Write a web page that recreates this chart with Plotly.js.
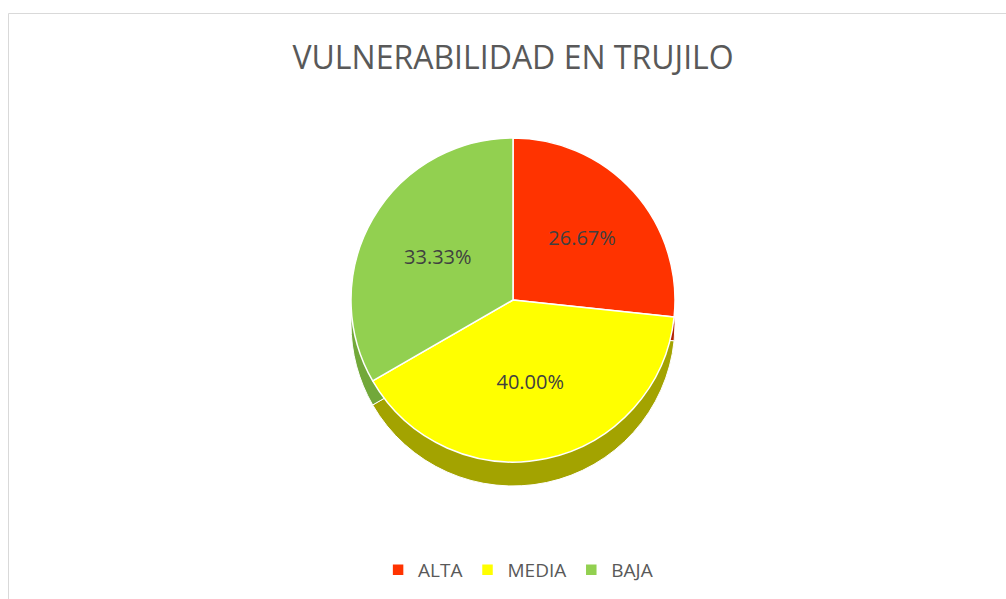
<!DOCTYPE html>
<html>
<head>
<meta charset="utf-8">
<script src="https://cdn.plot.ly/plotly-3.0.1.min.js"></script>
<style>
  html, body { margin: 0; padding: 0; background: #ffffff; }
  #chart { width: 1006px; height: 599px; }
</style>
</head>
<body>
<div id="chart"></div>
<script>
// Data
const categories = ["ALTA", "MEDIA", "BAJA"];
const values = [26.67, 40.00, 33.33];
const topColors = ["#FF3300", "#FFFF00", "#92D050"];
const sideColors = ["#B32400", "#A3A300", "#72A83A"];
const chartTitle = "VULNERABILIDAD EN TRUJILO";

const W = 1006, H = 599;
const cx = 513, cy = 300, r = 162, depth = 24;

const xDom = [(cx - r) / W, (cx + r) / W];
const yDomTop = [1 - (cy + r) / H, 1 - (cy - r) / H];
const yDomSide = [yDomTop[0] - depth / H, yDomTop[1] - depth / H];

const sideTrace = {
  type: "pie",
  labels: categories,
  values: values,
  sort: false,
  direction: "clockwise",
  rotation: 0,
  marker: { colors: sideColors, line: { color: "#ffffff", width: 1 } },
  textinfo: "none",
  hoverinfo: "skip",
  showlegend: false,
  domain: { x: xDom, y: yDomSide }
};

const topTrace = {
  type: "pie",
  labels: categories,
  values: values,
  sort: false,
  direction: "clockwise",
  rotation: 0,
  marker: { colors: topColors, line: { color: "#ffffff", width: 1.5 } },
  texttemplate: "%{percent:.2%}",
  textposition: "inside",
  insidetextorientation: "horizontal",
  textfont: { family: "Open Sans, sans-serif", size: 20, color: "#404040" },
  hoverinfo: "label+percent",
  domain: { x: xDom, y: yDomTop }
};

const layout = {
  width: W,
  height: H,
  margin: { l: 0, r: 0, t: 0, b: 0 },
  paper_bgcolor: "#ffffff",
  plot_bgcolor: "#ffffff",
  title: {
    text: chartTitle,
    x: 0.51, xanchor: "center",
    y: 1 - 58 / H, yanchor: "middle",
    font: { family: "Open Sans, sans-serif", size: 32, color: "#595959" }
  },
  showlegend: true,
  legend: {
    orientation: "h",
    x: 0.515, xanchor: "center",
    y: 1 - 570 / H, yanchor: "middle",
    font: { family: "Open Sans, sans-serif", size: 19, color: "#595959" },
    traceorder: "normal"
  },
  shapes: [
    { type: "line", xref: "paper", yref: "paper", x0: 8.5 / W, x1: 8.5 / W, y0: 0, y1: 1 - 13.5 / H, line: { color: "#D9D9D9", width: 1 } },
    { type: "line", xref: "paper", yref: "paper", x0: 8.5 / W, x1: 1, y0: 1 - 13.5 / H, y1: 1 - 13.5 / H, line: { color: "#D9D9D9", width: 1 } }
  ]
};

Plotly.newPlot("chart", [sideTrace, topTrace], layout, { displayModeBar: false, staticPlot: true });
</script>
</body>
</html>
